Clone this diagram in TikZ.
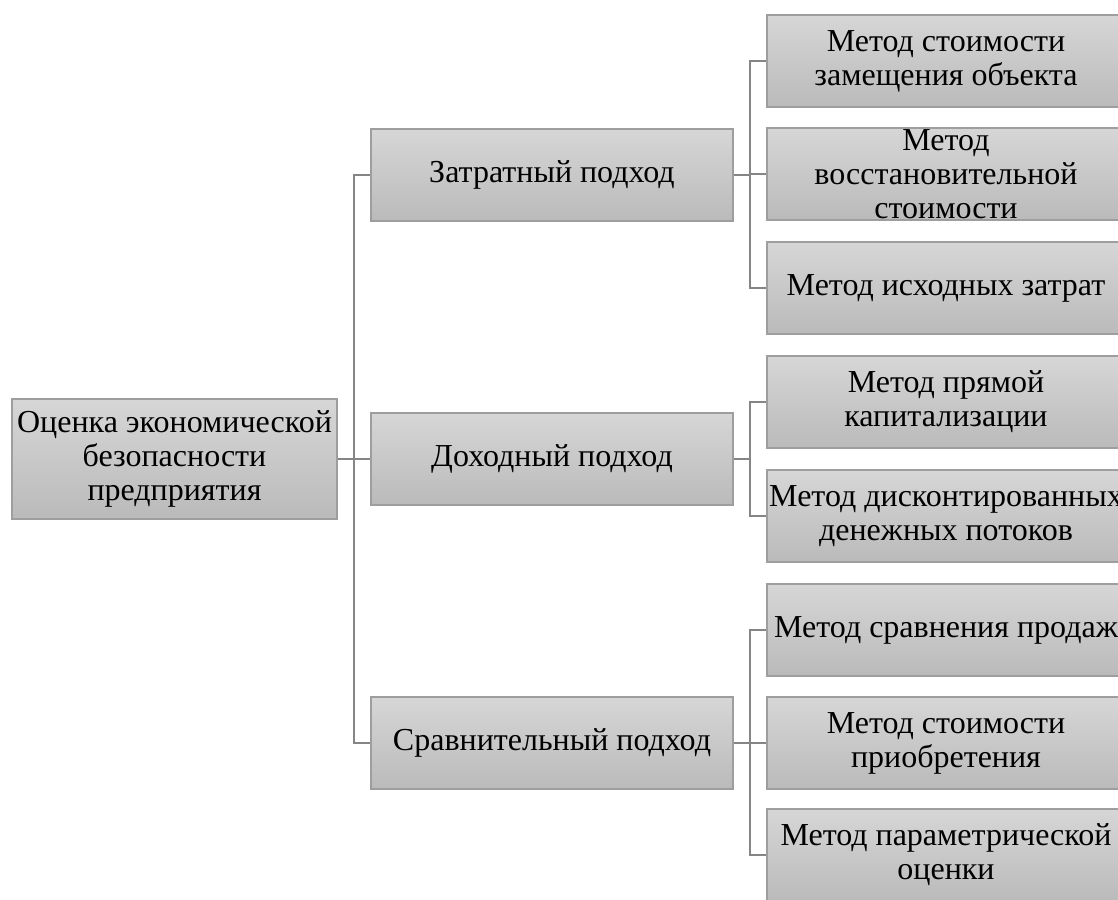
\documentclass[tikz,border=0pt]{standalone}
\usepackage{fontspec}
\setmainfont{Liberation Serif}
\tikzset{
  box/.style={draw=black!38, line width=0.6pt, top color=black!16, bottom color=black!27,
    align=center, inner sep=0pt, minimum height=46pt, font=\fontsize{16}{17}\selectfont},
  conn/.style={draw=black!48, line width=1pt},
}
\begin{document}
\begin{tikzpicture}[x=0.5pt, y=-0.5pt]
    \def\x{16}
    \useasboundingbox (0,0) rectangle (1118,899);
    % root
    \node [box, minimum width=162.5pt, minimum height=60pt] (A0_0) at (174.5, 459) {Оценка экономической\\безопасности\\предприятия};
    % approaches
    \node [box, minimum width=181pt] (A1_0) at (552, 175) {Затратный подход};
    \node [box, minimum width=181pt] (A1_1) at (552, 459) {Доходный подход};
    \node [box, minimum width=181pt] (A1_2) at (552, 743) {Сравнительный подход};
    % methods
    \node [box, minimum width=179pt] (A2_0) at (946, 61) {Метод стоимости\\замещения объекта};
    \node [box, minimum width=179pt] (A2_1) at (946, 174) {Метод\\восстановительной\\стоимости};
    \node [box, minimum width=179pt] (A2_2) at (946, 288) {Метод исходных затрат};
    \node [box, minimum width=179pt] (A2_3) at (946, 402) {Метод прямой\\капитализации};
    \node [box, minimum width=179pt] (A2_4) at (946, 516) {Метод дисконтированных\\денежных потоков};
    \node [box, minimum width=179pt] (A2_5) at (946, 630) {Метод сравнения продаж};
    \node [box, minimum width=179pt] (A2_6) at (946, 743) {Метод стоимости\\приобретения};
    \node [box, minimum width=179pt] (A2_7) at (946, 855) {Метод параметрической\\оценки};
    % connectors
    \foreach \j in {0,1,2}
      \draw [conn] (A0_0.east) -- ++(\x,0) |- (A1_\j.west);
    \foreach \j in {0,1,2}
      \draw [conn] (A1_0.east) -- ++(\x,0) |- (A2_\j.west);
    \foreach \j in {3,4}
      \draw [conn] (A1_1.east) -- ++(\x,0) |- (A2_\j.west);
    \foreach \j in {5,6,7}
      \draw [conn] (A1_2.east) -- ++(\x,0) |- (A2_\j.west);
\end{tikzpicture}
\end{document}
